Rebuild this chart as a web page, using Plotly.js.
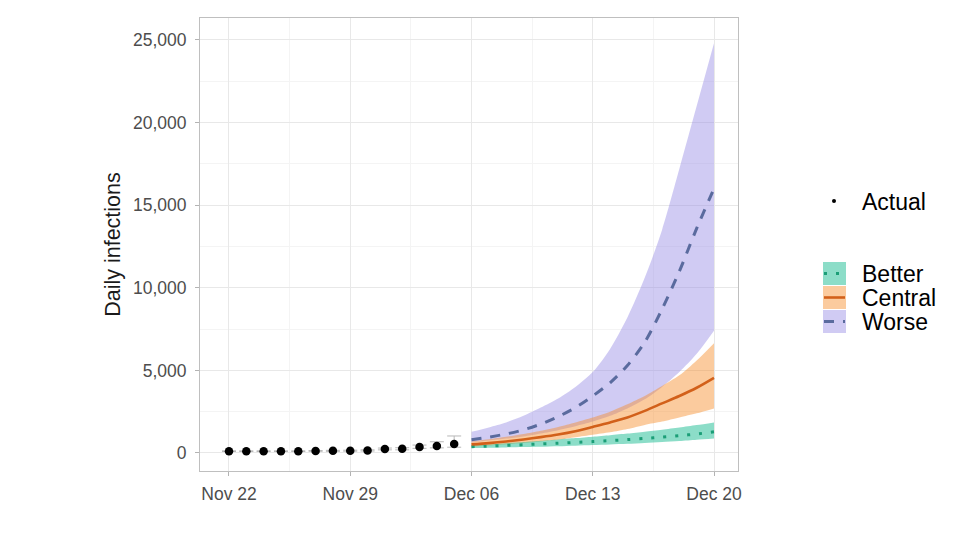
<!DOCTYPE html>
<html>
<head>
<meta charset="utf-8">
<script src="https://cdn.plot.ly/plotly-3.0.1.min.js"></script>
<style>
  html, body { margin: 0; padding: 0; background: #fff; }
  #chart { width: 976px; height: 549px; }
</style>
</head>
<body>
<div id="chart"></div>
<script>
// ---- Data ----
const actualDates = ['2020-11-22','2020-11-23','2020-11-24','2020-11-25','2020-11-26','2020-11-27','2020-11-28',
                     '2020-11-29','2020-11-30','2020-12-01','2020-12-02','2020-12-03','2020-12-04','2020-12-05'];
const actualValues   = [110, 110, 110, 110, 110, 120, 130, 140, 150, 240, 250, 360, 430, 550];
const actualErrPlus  = [20, 20, 20, 20, 20, 30, 30, 30, 40, 60, 70, 120, 250, 480];
const actualErrMinus = [20, 20, 20, 20, 20, 20, 30, 30, 30, 50, 60, 80, 120, 200];

const forecastDates = ['2020-12-06','2020-12-07','2020-12-08','2020-12-09','2020-12-10','2020-12-11','2020-12-12',
                       '2020-12-13','2020-12-14','2020-12-15','2020-12-16','2020-12-17','2020-12-18','2020-12-19','2020-12-20'];

const worseHigh   = [1290, 1550, 1850, 2250, 2750, 3300, 4000, 4900, 6300, 8200, 10600, 13500, 17200, 21000, 24800];
const worseMid    = [800, 960, 1150, 1400, 1750, 2200, 2750, 3450, 4250, 5300, 6700, 8700, 11000, 13600, 16000];
const worseLow    = [650, 750, 870, 1000, 1180, 1380, 1620, 1900, 2250, 2700, 3250, 4000, 4900, 6000, 7400];

const centralHigh = [700, 830, 980, 1150, 1350, 1580, 1850, 2150, 2500, 2950, 3450, 4050, 4700, 5600, 6650];
const centralMid  = [520, 600, 700, 820, 960, 1120, 1320, 1580, 1850, 2150, 2550, 3000, 3450, 3950, 4550];
const centralLow  = [380, 450, 530, 610, 700, 800, 950, 1100, 1250, 1450, 1700, 1900, 2150, 2400, 2700];

const betterHigh  = [450, 520, 590, 660, 740, 820, 900, 990, 1080, 1180, 1290, 1410, 1540, 1690, 1850];
const betterMid   = [380, 420, 460, 500, 550, 590, 640, 690, 750, 810, 880, 960, 1050, 1150, 1280];
const betterLow   = [300, 320, 340, 360, 380, 410, 440, 480, 520, 560, 610, 660, 720, 800, 880];

const xTickVals  = ['2020-11-22','2020-11-29','2020-12-06','2020-12-13','2020-12-20'];
const xTickText  = ['Nov 22','Nov 29','Dec 06','Dec 13','Dec 20'];
const yTickVals  = [0, 5000, 10000, 15000, 20000, 25000];
const legendLabels = ['Actual', 'Better', 'Central', 'Worse'];

// ---- Styles ----
const FONT = 'Liberation Sans, Arial, sans-serif';
const col = {
  worseFill: 'rgba(150,140,228,0.45)',
  centralFill: 'rgba(247,140,40,0.45)',
  betterFill: 'rgba(35,190,150,0.52)',
  worseLine: '#5a6b9e',
  centralLine: '#d2601a',
  betterLine: '#1b9e77'
};
const lineStyle = {
  better: {color: col.betterLine, width: 3, dash: '3px,9px'},
  central: {color: col.centralLine, width: 2.6},
  worse: {color: col.worseLine, width: 3, dash: '10px,9px'}
};

function band(lo, hi, fill) {
  return [
    {x: forecastDates, y: hi, type: 'scatter', mode: 'lines',
     line: {width: 0, shape: 'spline', smoothing: 0.8}, hoverinfo: 'skip', showlegend: false},
    {x: forecastDates, y: lo, type: 'scatter', mode: 'lines', fill: 'tonexty', fillcolor: fill,
     line: {width: 0, shape: 'spline', smoothing: 0.8}, hoverinfo: 'skip', showlegend: false}
  ];
}
function mid(vals, ls) {
  return {x: forecastDates, y: vals, type: 'scatter', mode: 'lines',
          line: Object.assign({shape: 'spline', smoothing: 0.8}, ls), showlegend: false};
}

const traces = [].concat(
  band(worseLow, worseHigh, col.worseFill),
  band(centralLow, centralHigh, col.centralFill),
  band(betterLow, betterHigh, col.betterFill),
  [
    mid(betterMid, lineStyle.better),
    mid(centralMid, lineStyle.central),
    mid(worseMid, lineStyle.worse),
    {
      x: actualDates, y: actualValues, type: 'scatter', mode: 'markers',
      marker: {color: '#000', size: 8.5},
      error_y: {type: 'data', symmetric: false, array: actualErrPlus, arrayminus: actualErrMinus,
                color: '#b8b8b8', thickness: 1, width: 7},
      showlegend: false
    }
  ]
);

// ---- Custom legend (layout positions in pixels -> paper) ----
const M = {l: 200, r: 238, t: 18, b: 78};
const PW = 976 - M.l - M.r, PH = 549 - M.t - M.b;
const px = v => (v - M.l) / PW;
const py = v => (549 - M.b - v) / PH;

const shapes = [];
const annotations = [];
shapes.push({type: 'circle', xref: 'paper', yref: 'paper',
  x0: px(832), x1: px(836), y0: py(203), y1: py(199), fillcolor: '#000', line: {width: 0}});
annotations.push({xref: 'paper', yref: 'paper', x: px(860), y: py(202), xanchor: 'left', yanchor: 'middle',
  text: legendLabels[0], showarrow: false, font: {family: FONT, size: 23, color: '#000'}});
const keys = [
  {label: legendLabels[1], fill: col.betterFill, ls: lineStyle.better, top: 262},
  {label: legendLabels[2], fill: col.centralFill, ls: lineStyle.central, top: 286},
  {label: legendLabels[3], fill: col.worseFill, ls: lineStyle.worse, top: 310}
];
keys.forEach(k => {
  shapes.push({type: 'rect', xref: 'paper', yref: 'paper',
    x0: px(823), x1: px(846), y0: py(k.top + 23), y1: py(k.top), fillcolor: k.fill, line: {width: 0}});
  shapes.push({type: 'line', xref: 'paper', yref: 'paper',
    x0: px(824), x1: px(845), y0: py(k.top + 11.5), y1: py(k.top + 11.5),
    line: {color: k.ls.color, width: k.ls.width, dash: k.ls.dash || 'solid'}});
  annotations.push({xref: 'paper', yref: 'paper', x: px(860), y: py(k.top + 12), xanchor: 'left', yanchor: 'middle',
    text: k.label, showarrow: false, font: {family: FONT, size: 23, color: '#000'}});
});

const layout = {
  width: 976, height: 549,
  margin: M,
  paper_bgcolor: '#fff', plot_bgcolor: '#fff',
  showlegend: false,
  font: {family: FONT},
  xaxis: {
    type: 'date',
    range: ['2020-11-20 07:50', '2020-12-21 09:15'],
    tickvals: xTickVals, ticktext: xTickText,
    tickfont: {family: FONT, size: 17.5, color: '#4d4d4d'},
    ticks: 'outside', ticklen: 4, tickcolor: '#b3b3b3', tickwidth: 1,
    ticklabelstandoff: 3,
    showgrid: true, gridcolor: '#e8e8e8', gridwidth: 1,
    minor: {tickvals: ['2020-11-25 12:00','2020-12-02 12:00','2020-12-09 12:00','2020-12-16 12:00'],
            showgrid: true, gridcolor: '#f4f4f4', gridwidth: 1},
    showline: true, mirror: true, linecolor: '#bfbfbf', linewidth: 1,
    zeroline: false, fixedrange: true
  },
  yaxis: {
    range: [-1090, 26330],
    tickvals: yTickVals, tickformat: ',',
    tickfont: {family: FONT, size: 17.5, color: '#4d4d4d'},
    ticks: 'outside', ticklen: 4, tickcolor: '#b3b3b3', tickwidth: 1,
    ticklabelstandoff: 5,
    showgrid: true, gridcolor: '#e8e8e8', gridwidth: 1,
    minor: {dtick: 2500, showgrid: true, gridcolor: '#f4f4f4', gridwidth: 1},
    showline: true, mirror: true, linecolor: '#bfbfbf', linewidth: 1,
    zeroline: false, fixedrange: true,
    title: {text: 'Daily infections', font: {family: FONT, size: 21.5, color: '#1a1a1a'}, standoff: 6}
  },
  shapes: shapes,
  annotations: annotations
};

Plotly.newPlot('chart', traces, layout, {staticPlot: true, displayModeBar: false});
</script>
</body>
</html>
